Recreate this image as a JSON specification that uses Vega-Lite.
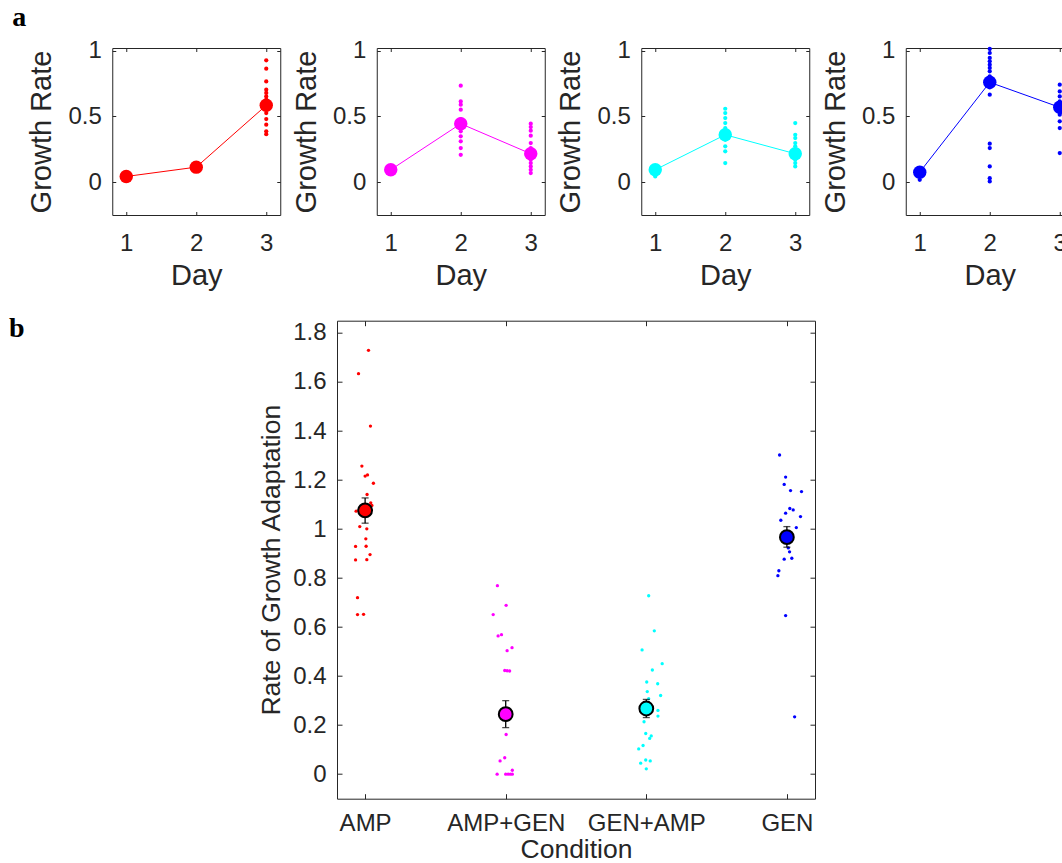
{
  "$schema": "https://vega.github.io/schema/vega-lite/v6.json",
  "background": "white",
  "padding": {"left": 8, "top": 4, "right": 5, "bottom": 5},
  "config": {
    "font": "Liberation Sans",
    "view": {"stroke": "#262626", "strokeWidth": 1},
    "axis": {"domain": false, "grid": false, "labelColor": "#262626", "titleColor": "#262626", "tickColor": "#262626", "tickWidth": 1, "titleFontWeight": "normal", "labelFont": "Liberation Sans", "titleFont": "Liberation Sans", "labelFlush": false, "labelOverlap": false},
    "title": {"font": "Liberation Serif", "fontWeight": "bold", "fontSize": 28, "color": "black", "anchor": "start", "frame": "group"}
  },
  "datasets": {
    "growth": [
      {"cond": "AMP", "day": 1, "rate": 0.02}, {"cond": "AMP", "day": 1, "rate": 0.03}, {"cond": "AMP", "day": 1, "rate": 0.04}, {"cond": "AMP", "day": 1, "rate": 0.05}, {"cond": "AMP", "day": 1, "rate": 0.06},
      {"cond": "AMP", "day": 2, "rate": 0.09}, {"cond": "AMP", "day": 2, "rate": 0.10}, {"cond": "AMP", "day": 2, "rate": 0.11}, {"cond": "AMP", "day": 2, "rate": 0.12}, {"cond": "AMP", "day": 2, "rate": 0.13}, {"cond": "AMP", "day": 2, "rate": 0.14},
      {"cond": "AMP", "day": 3, "rate": 0.926}, {"cond": "AMP", "day": 3, "rate": 0.863}, {"cond": "AMP", "day": 3, "rate": 0.766}, {"cond": "AMP", "day": 3, "rate": 0.703}, {"cond": "AMP", "day": 3, "rate": 0.678}, {"cond": "AMP", "day": 3, "rate": 0.652}, {"cond": "AMP", "day": 3, "rate": 0.627}, {"cond": "AMP", "day": 3, "rate": 0.60}, {"cond": "AMP", "day": 3, "rate": 0.57}, {"cond": "AMP", "day": 3, "rate": 0.55}, {"cond": "AMP", "day": 3, "rate": 0.525}, {"cond": "AMP", "day": 3, "rate": 0.48}, {"cond": "AMP", "day": 3, "rate": 0.437}, {"cond": "AMP", "day": 3, "rate": 0.386}, {"cond": "AMP", "day": 3, "rate": 0.365},
      {"cond": "AMP+GEN", "day": 1, "rate": 0.07}, {"cond": "AMP+GEN", "day": 1, "rate": 0.08}, {"cond": "AMP+GEN", "day": 1, "rate": 0.09}, {"cond": "AMP+GEN", "day": 1, "rate": 0.10}, {"cond": "AMP+GEN", "day": 1, "rate": 0.11},
      {"cond": "AMP+GEN", "day": 2, "rate": 0.733}, {"cond": "AMP+GEN", "day": 2, "rate": 0.614}, {"cond": "AMP+GEN", "day": 2, "rate": 0.589}, {"cond": "AMP+GEN", "day": 2, "rate": 0.551}, {"cond": "AMP+GEN", "day": 2, "rate": 0.48}, {"cond": "AMP+GEN", "day": 2, "rate": 0.46}, {"cond": "AMP+GEN", "day": 2, "rate": 0.424}, {"cond": "AMP+GEN", "day": 2, "rate": 0.386}, {"cond": "AMP+GEN", "day": 2, "rate": 0.348}, {"cond": "AMP+GEN", "day": 2, "rate": 0.31}, {"cond": "AMP+GEN", "day": 2, "rate": 0.259}, {"cond": "AMP+GEN", "day": 2, "rate": 0.208},
      {"cond": "AMP+GEN", "day": 3, "rate": 0.444}, {"cond": "AMP+GEN", "day": 3, "rate": 0.419}, {"cond": "AMP+GEN", "day": 3, "rate": 0.391}, {"cond": "AMP+GEN", "day": 3, "rate": 0.353}, {"cond": "AMP+GEN", "day": 3, "rate": 0.297}, {"cond": "AMP+GEN", "day": 3, "rate": 0.259}, {"cond": "AMP+GEN", "day": 3, "rate": 0.24}, {"cond": "AMP+GEN", "day": 3, "rate": 0.19}, {"cond": "AMP+GEN", "day": 3, "rate": 0.17}, {"cond": "AMP+GEN", "day": 3, "rate": 0.145}, {"cond": "AMP+GEN", "day": 3, "rate": 0.119}, {"cond": "AMP+GEN", "day": 3, "rate": 0.094}, {"cond": "AMP+GEN", "day": 3, "rate": 0.069},
      {"cond": "GEN+AMP", "day": 1, "rate": 0.043}, {"cond": "GEN+AMP", "day": 1, "rate": 0.07}, {"cond": "GEN+AMP", "day": 1, "rate": 0.09}, {"cond": "GEN+AMP", "day": 1, "rate": 0.11}, {"cond": "GEN+AMP", "day": 1, "rate": 0.12},
      {"cond": "GEN+AMP", "day": 2, "rate": 0.558}, {"cond": "GEN+AMP", "day": 2, "rate": 0.525}, {"cond": "GEN+AMP", "day": 2, "rate": 0.487}, {"cond": "GEN+AMP", "day": 2, "rate": 0.449}, {"cond": "GEN+AMP", "day": 2, "rate": 0.411}, {"cond": "GEN+AMP", "day": 2, "rate": 0.38}, {"cond": "GEN+AMP", "day": 2, "rate": 0.34}, {"cond": "GEN+AMP", "day": 2, "rate": 0.322}, {"cond": "GEN+AMP", "day": 2, "rate": 0.272}, {"cond": "GEN+AMP", "day": 2, "rate": 0.234}, {"cond": "GEN+AMP", "day": 2, "rate": 0.145},
      {"cond": "GEN+AMP", "day": 3, "rate": 0.449}, {"cond": "GEN+AMP", "day": 3, "rate": 0.36}, {"cond": "GEN+AMP", "day": 3, "rate": 0.335}, {"cond": "GEN+AMP", "day": 3, "rate": 0.297}, {"cond": "GEN+AMP", "day": 3, "rate": 0.272}, {"cond": "GEN+AMP", "day": 3, "rate": 0.23}, {"cond": "GEN+AMP", "day": 3, "rate": 0.2}, {"cond": "GEN+AMP", "day": 3, "rate": 0.17}, {"cond": "GEN+AMP", "day": 3, "rate": 0.145}, {"cond": "GEN+AMP", "day": 3, "rate": 0.119},
      {"cond": "GEN", "day": 1, "rate": 0.018}, {"cond": "GEN", "day": 1, "rate": 0.05}, {"cond": "GEN", "day": 1, "rate": 0.07}, {"cond": "GEN", "day": 1, "rate": 0.09}, {"cond": "GEN", "day": 1, "rate": 0.1},
      {"cond": "GEN", "day": 2, "rate": 1.013}, {"cond": "GEN", "day": 2, "rate": 0.982}, {"cond": "GEN", "day": 2, "rate": 0.944}, {"cond": "GEN", "day": 2, "rate": 0.919}, {"cond": "GEN", "day": 2, "rate": 0.893}, {"cond": "GEN", "day": 2, "rate": 0.868}, {"cond": "GEN", "day": 2, "rate": 0.843}, {"cond": "GEN", "day": 2, "rate": 0.805}, {"cond": "GEN", "day": 2, "rate": 0.78}, {"cond": "GEN", "day": 2, "rate": 0.74}, {"cond": "GEN", "day": 2, "rate": 0.72}, {"cond": "GEN", "day": 2, "rate": 0.665}, {"cond": "GEN", "day": 2, "rate": 0.292}, {"cond": "GEN", "day": 2, "rate": 0.259}, {"cond": "GEN", "day": 2, "rate": 0.119}, {"cond": "GEN", "day": 2, "rate": 0.03}, {"cond": "GEN", "day": 2, "rate": 0.005},
      {"cond": "GEN", "day": 3, "rate": 0.741}, {"cond": "GEN", "day": 3, "rate": 0.69}, {"cond": "GEN", "day": 3, "rate": 0.652}, {"cond": "GEN", "day": 3, "rate": 0.614}, {"cond": "GEN", "day": 3, "rate": 0.59}, {"cond": "GEN", "day": 3, "rate": 0.55}, {"cond": "GEN", "day": 3, "rate": 0.53}, {"cond": "GEN", "day": 3, "rate": 0.513}, {"cond": "GEN", "day": 3, "rate": 0.462}, {"cond": "GEN", "day": 3, "rate": 0.411}, {"cond": "GEN", "day": 3, "rate": 0.221}
    ],
    "growthMean": [
      {"cond": "AMP", "day": 1, "rate": 0.043}, {"cond": "AMP", "day": 2, "rate": 0.114}, {"cond": "AMP", "day": 3, "rate": 0.584},
      {"cond": "AMP+GEN", "day": 1, "rate": 0.094}, {"cond": "AMP+GEN", "day": 2, "rate": 0.444}, {"cond": "AMP+GEN", "day": 3, "rate": 0.216},
      {"cond": "GEN+AMP", "day": 1, "rate": 0.094}, {"cond": "GEN+AMP", "day": 2, "rate": 0.36}, {"cond": "GEN+AMP", "day": 3, "rate": 0.216},
      {"cond": "GEN", "day": 1, "rate": 0.076}, {"cond": "GEN", "day": 2, "rate": 0.759}, {"cond": "GEN", "day": 3, "rate": 0.569}
    ],
    "adapt": [
      {"cond": "AMP", "x": 1.024, "rate": 1.729}, {"cond": "AMP", "x": 0.953, "rate": 1.634}, {"cond": "AMP", "x": 1.038, "rate": 1.42}, {"cond": "AMP", "x": 0.977, "rate": 1.257}, {"cond": "AMP", "x": 1.0, "rate": 1.216}, {"cond": "AMP", "x": 1.017, "rate": 1.221}, {"cond": "AMP", "x": 1.059, "rate": 1.187}, {"cond": "AMP", "x": 1.014, "rate": 1.141}, {"cond": "AMP", "x": 1.04, "rate": 1.107}, {"cond": "AMP", "x": 1.048, "rate": 1.096}, {"cond": "AMP", "x": 0.936, "rate": 1.073}, {"cond": "AMP", "x": 0.962, "rate": 1.01}, {"cond": "AMP", "x": 1.012, "rate": 1.001}, {"cond": "AMP", "x": 1.005, "rate": 0.96}, {"cond": "AMP", "x": 0.932, "rate": 0.929}, {"cond": "AMP", "x": 1.007, "rate": 0.93}, {"cond": "AMP", "x": 1.035, "rate": 0.896}, {"cond": "AMP", "x": 0.932, "rate": 0.874}, {"cond": "AMP", "x": 1.012, "rate": 0.875}, {"cond": "AMP", "x": 0.946, "rate": 0.72}, {"cond": "AMP", "x": 0.946, "rate": 0.651}, {"cond": "AMP", "x": 0.989, "rate": 0.652},
      {"cond": "AMP+GEN", "x": 1.941, "rate": 0.769}, {"cond": "AMP+GEN", "x": 2.003, "rate": 0.689}, {"cond": "AMP+GEN", "x": 1.911, "rate": 0.651}, {"cond": "AMP+GEN", "x": 1.946, "rate": 0.564}, {"cond": "AMP+GEN", "x": 1.97, "rate": 0.569}, {"cond": "AMP+GEN", "x": 2.045, "rate": 0.516}, {"cond": "AMP+GEN", "x": 2.01, "rate": 0.504}, {"cond": "AMP+GEN", "x": 1.993, "rate": 0.423}, {"cond": "AMP+GEN", "x": 2.01, "rate": 0.422}, {"cond": "AMP+GEN", "x": 2.028, "rate": 0.421}, {"cond": "AMP+GEN", "x": 2.003, "rate": 0.162}, {"cond": "AMP+GEN", "x": 1.993, "rate": 0.067}, {"cond": "AMP+GEN", "x": 1.96, "rate": 0.054}, {"cond": "AMP+GEN", "x": 2.047, "rate": 0.016}, {"cond": "AMP+GEN", "x": 1.939, "rate": 0.0}, {"cond": "AMP+GEN", "x": 2.0, "rate": 0.0}, {"cond": "AMP+GEN", "x": 2.017, "rate": 0.0}, {"cond": "AMP+GEN", "x": 2.033, "rate": 0.0}, {"cond": "AMP+GEN", "x": 2.047, "rate": 0.0},
      {"cond": "GEN+AMP", "x": 3.017, "rate": 0.728}, {"cond": "GEN+AMP", "x": 3.057, "rate": 0.585}, {"cond": "GEN+AMP", "x": 2.97, "rate": 0.507}, {"cond": "GEN+AMP", "x": 3.113, "rate": 0.451}, {"cond": "GEN+AMP", "x": 3.043, "rate": 0.425}, {"cond": "GEN+AMP", "x": 3.003, "rate": 0.376}, {"cond": "GEN+AMP", "x": 3.081, "rate": 0.369}, {"cond": "GEN+AMP", "x": 3.007, "rate": 0.337}, {"cond": "GEN+AMP", "x": 3.102, "rate": 0.321}, {"cond": "GEN+AMP", "x": 3.017, "rate": 0.308}, {"cond": "GEN+AMP", "x": 3.083, "rate": 0.26}, {"cond": "GEN+AMP", "x": 3.083, "rate": 0.237}, {"cond": "GEN+AMP", "x": 2.984, "rate": 0.214}, {"cond": "GEN+AMP", "x": 2.996, "rate": 0.166}, {"cond": "GEN+AMP", "x": 3.035, "rate": 0.156}, {"cond": "GEN+AMP", "x": 3.024, "rate": 0.146}, {"cond": "GEN+AMP", "x": 2.977, "rate": 0.117}, {"cond": "GEN+AMP", "x": 2.946, "rate": 0.103}, {"cond": "GEN+AMP", "x": 2.996, "rate": 0.058}, {"cond": "GEN+AMP", "x": 3.028, "rate": 0.054}, {"cond": "GEN+AMP", "x": 2.96, "rate": 0.045}, {"cond": "GEN+AMP", "x": 3.0, "rate": 0.022},
      {"cond": "GEN", "x": 3.948, "rate": 1.302}, {"cond": "GEN", "x": 3.991, "rate": 1.212}, {"cond": "GEN", "x": 3.981, "rate": 1.182}, {"cond": "GEN", "x": 4.026, "rate": 1.157}, {"cond": "GEN", "x": 4.104, "rate": 1.153}, {"cond": "GEN", "x": 4.021, "rate": 1.084}, {"cond": "GEN", "x": 4.045, "rate": 1.078}, {"cond": "GEN", "x": 3.991, "rate": 1.065}, {"cond": "GEN", "x": 4.097, "rate": 1.051}, {"cond": "GEN", "x": 3.957, "rate": 1.036}, {"cond": "GEN", "x": 4.067, "rate": 1.006}, {"cond": "GEN", "x": 4.01, "rate": 0.923}, {"cond": "GEN", "x": 4.019, "rate": 0.907}, {"cond": "GEN", "x": 3.981, "rate": 0.877}, {"cond": "GEN", "x": 4.035, "rate": 0.881}, {"cond": "GEN", "x": 3.943, "rate": 0.83}, {"cond": "GEN", "x": 3.936, "rate": 0.81}, {"cond": "GEN", "x": 3.991, "rate": 0.647}, {"cond": "GEN", "x": 4.055, "rate": 0.234}
    ],
    "adaptMean": [
      {"cond": "AMP", "x": 1, "mean": 1.076, "lo": 1.024, "hi": 1.127},
      {"cond": "AMP+GEN", "x": 2, "mean": 0.245, "lo": 0.19, "hi": 0.3},
      {"cond": "GEN+AMP", "x": 3, "mean": 0.268, "lo": 0.231, "hi": 0.305},
      {"cond": "GEN", "x": 4, "mean": 0.967, "lo": 0.926, "hi": 1.01}
    ]
  },
  "center": true,
  "spacing": 22.7,
  "vconcat": [
    {
      "title": {"text": "a", "dx": -100, "offset": 6},
      "spacing": 10.5,
      "hconcat": [
        {
          "width": 168, "height": 167,
          "layer": [
            {"data": {"name": "growthMean"}, "transform": [{"filter": "datum.cond === 'AMP'"}], "mark": {"type": "line", "strokeWidth": 1},
             "encoding": {
               "x": {"field": "day", "type": "quantitative", "scale": {"domain": [0.8, 3.2], "nice": false, "zero": false}, "axis": {"values": [1, 2, 3], "format": "d", "title": "Day", "labelFontSize": 24, "titleFontSize": 29, "tickSize": -3.5, "labelPadding": 19.8, "titlePadding": 5.7}},
               "y": {"field": "rate", "type": "quantitative", "scale": {"domain": [-0.25, 1.02], "nice": false, "zero": false}, "axis": {"values": [0, 0.5, 1], "format": "~g", "title": "Growth Rate", "labelFontSize": 24, "titleFontSize": 29, "tickSize": -3.5, "labelPadding": 14.5, "titlePadding": 11}},
               "color": {"field": "cond", "type": "nominal", "scale": {"domain": ["AMP", "AMP+GEN", "GEN+AMP", "GEN"], "range": ["#ff0000", "#ff00ff", "#00ffff", "#0000ff"]}, "legend": null}}},
            {"data": {"name": "growth"}, "transform": [{"filter": "datum.cond === 'AMP'"}], "mark": {"type": "circle", "size": 18, "opacity": 1},
             "encoding": {
               "x": {"field": "day", "type": "quantitative", "axis": {"orient": "top", "values": [1, 2, 3], "labels": false, "title": null, "tickSize": -3.5, "minExtent": 0}},
               "y": {"field": "rate", "type": "quantitative", "axis": {"orient": "right", "values": [0, 0.5, 1], "labels": false, "title": null, "tickSize": -3.5, "minExtent": 0}},
               "color": {"field": "cond", "type": "nominal", "legend": null}}},
            {"data": {"name": "growthMean"}, "transform": [{"filter": "datum.cond === 'AMP'"}], "mark": {"type": "circle", "size": 180, "opacity": 1},
             "encoding": {
               "x": {"field": "day", "type": "quantitative", "axis": null},
               "y": {"field": "rate", "type": "quantitative", "axis": null},
               "color": {"field": "cond", "type": "nominal", "legend": null}}}
          ],
          "resolve": {"axis": {"x": "independent", "y": "independent"}}
        },
        {
          "width": 168, "height": 167,
          "layer": [
            {"data": {"name": "growthMean"}, "transform": [{"filter": "datum.cond === 'AMP+GEN'"}], "mark": {"type": "line", "strokeWidth": 1},
             "encoding": {
               "x": {"field": "day", "type": "quantitative", "scale": {"domain": [0.8, 3.2], "nice": false, "zero": false}, "axis": {"values": [1, 2, 3], "format": "d", "title": "Day", "labelFontSize": 24, "titleFontSize": 29, "tickSize": -3.5, "labelPadding": 19.8, "titlePadding": 5.7}},
               "y": {"field": "rate", "type": "quantitative", "scale": {"domain": [-0.25, 1.02], "nice": false, "zero": false}, "axis": {"values": [0, 0.5, 1], "format": "~g", "title": "Growth Rate", "labelFontSize": 24, "titleFontSize": 29, "tickSize": -3.5, "labelPadding": 14.5, "titlePadding": 11}},
               "color": {"field": "cond", "type": "nominal", "legend": null}}},
            {"data": {"name": "growth"}, "transform": [{"filter": "datum.cond === 'AMP+GEN'"}], "mark": {"type": "circle", "size": 18, "opacity": 1},
             "encoding": {
               "x": {"field": "day", "type": "quantitative", "axis": {"orient": "top", "values": [1, 2, 3], "labels": false, "title": null, "tickSize": -3.5, "minExtent": 0}},
               "y": {"field": "rate", "type": "quantitative", "axis": {"orient": "right", "values": [0, 0.5, 1], "labels": false, "title": null, "tickSize": -3.5, "minExtent": 0}},
               "color": {"field": "cond", "type": "nominal", "legend": null}}},
            {"data": {"name": "growthMean"}, "transform": [{"filter": "datum.cond === 'AMP+GEN'"}], "mark": {"type": "circle", "size": 180, "opacity": 1},
             "encoding": {
               "x": {"field": "day", "type": "quantitative", "axis": null},
               "y": {"field": "rate", "type": "quantitative", "axis": null},
               "color": {"field": "cond", "type": "nominal", "legend": null}}}
          ],
          "resolve": {"axis": {"x": "independent", "y": "independent"}}
        },
        {
          "width": 168, "height": 167,
          "layer": [
            {"data": {"name": "growthMean"}, "transform": [{"filter": "datum.cond === 'GEN+AMP'"}], "mark": {"type": "line", "strokeWidth": 1},
             "encoding": {
               "x": {"field": "day", "type": "quantitative", "scale": {"domain": [0.8, 3.2], "nice": false, "zero": false}, "axis": {"values": [1, 2, 3], "format": "d", "title": "Day", "labelFontSize": 24, "titleFontSize": 29, "tickSize": -3.5, "labelPadding": 19.8, "titlePadding": 5.7}},
               "y": {"field": "rate", "type": "quantitative", "scale": {"domain": [-0.25, 1.02], "nice": false, "zero": false}, "axis": {"values": [0, 0.5, 1], "format": "~g", "title": "Growth Rate", "labelFontSize": 24, "titleFontSize": 29, "tickSize": -3.5, "labelPadding": 14.5, "titlePadding": 11}},
               "color": {"field": "cond", "type": "nominal", "legend": null}}},
            {"data": {"name": "growth"}, "transform": [{"filter": "datum.cond === 'GEN+AMP'"}], "mark": {"type": "circle", "size": 18, "opacity": 1},
             "encoding": {
               "x": {"field": "day", "type": "quantitative", "axis": {"orient": "top", "values": [1, 2, 3], "labels": false, "title": null, "tickSize": -3.5, "minExtent": 0}},
               "y": {"field": "rate", "type": "quantitative", "axis": {"orient": "right", "values": [0, 0.5, 1], "labels": false, "title": null, "tickSize": -3.5, "minExtent": 0}},
               "color": {"field": "cond", "type": "nominal", "legend": null}}},
            {"data": {"name": "growthMean"}, "transform": [{"filter": "datum.cond === 'GEN+AMP'"}], "mark": {"type": "circle", "size": 180, "opacity": 1},
             "encoding": {
               "x": {"field": "day", "type": "quantitative", "axis": null},
               "y": {"field": "rate", "type": "quantitative", "axis": null},
               "color": {"field": "cond", "type": "nominal", "legend": null}}}
          ],
          "resolve": {"axis": {"x": "independent", "y": "independent"}}
        },
        {
          "width": 168, "height": 167,
          "layer": [
            {"data": {"name": "growthMean"}, "transform": [{"filter": "datum.cond === 'GEN'"}], "mark": {"type": "line", "strokeWidth": 1},
             "encoding": {
               "x": {"field": "day", "type": "quantitative", "scale": {"domain": [0.8, 3.2], "nice": false, "zero": false}, "axis": {"values": [1, 2, 3], "format": "d", "title": "Day", "labelFontSize": 24, "titleFontSize": 29, "tickSize": -3.5, "labelPadding": 19.8, "titlePadding": 5.7}},
               "y": {"field": "rate", "type": "quantitative", "scale": {"domain": [-0.25, 1.02], "nice": false, "zero": false}, "axis": {"values": [0, 0.5, 1], "format": "~g", "title": "Growth Rate", "labelFontSize": 24, "titleFontSize": 29, "tickSize": -3.5, "labelPadding": 14.5, "titlePadding": 11}},
               "color": {"field": "cond", "type": "nominal", "legend": null}}},
            {"data": {"name": "growth"}, "transform": [{"filter": "datum.cond === 'GEN'"}], "mark": {"type": "circle", "size": 18, "opacity": 1},
             "encoding": {
               "x": {"field": "day", "type": "quantitative", "axis": {"orient": "top", "values": [1, 2, 3], "labels": false, "title": null, "tickSize": -3.5, "minExtent": 0}},
               "y": {"field": "rate", "type": "quantitative", "axis": {"orient": "right", "values": [0, 0.5, 1], "labels": false, "title": null, "tickSize": -3.5, "minExtent": 0}},
               "color": {"field": "cond", "type": "nominal", "legend": null}}},
            {"data": {"name": "growthMean"}, "transform": [{"filter": "datum.cond === 'GEN'"}], "mark": {"type": "circle", "size": 180, "opacity": 1},
             "encoding": {
               "x": {"field": "day", "type": "quantitative", "axis": null},
               "y": {"field": "rate", "type": "quantitative", "axis": null},
               "color": {"field": "cond", "type": "nominal", "legend": null}}}
          ],
          "resolve": {"axis": {"x": "independent", "y": "independent"}}
        }
      ]
    },
    {
      "title": {"text": "b", "dx": -328, "offset": -22.6},
      "width": 478, "height": 478,
      "layer": [
        {"data": {"name": "adapt"}, "mark": {"type": "circle", "size": 11, "opacity": 1},
         "encoding": {
           "x": {"field": "x", "type": "quantitative", "scale": {"domain": [0.8, 4.2], "nice": false, "zero": false}, "axis": {"values": [1, 2, 3, 4], "labelExpr": "datum.value == 1 ? 'AMP' : datum.value == 2 ? 'AMP+GEN' : datum.value == 3 ? 'GEN+AMP' : 'GEN'", "title": "Condition", "labelFontSize": 24, "titleFontSize": 26.5, "tickSize": -5, "labelPadding": 18, "titlePadding": 0.5}},
           "y": {"field": "rate", "type": "quantitative", "scale": {"domain": [-0.1, 1.85], "nice": false, "zero": false}, "axis": {"values": [0, 0.2, 0.4, 0.6, 0.8, 1, 1.2, 1.4, 1.6, 1.8], "format": "~g", "title": "Rate of Growth Adaptation", "labelFontSize": 24, "titleFontSize": 26.5, "tickSize": -5, "labelPadding": 16, "titlePadding": 7}},
           "color": {"field": "cond", "type": "nominal", "legend": null}}},
        {"data": {"name": "adaptMean"}, "mark": {"type": "errorbar", "color": "black", "thickness": 1.3, "ticks": {"size": 7}},
         "encoding": {
           "x": {"field": "x", "type": "quantitative", "axis": null},
           "y": {"field": "lo", "type": "quantitative", "axis": null},
           "y2": {"field": "hi"}}},
        {"data": {"name": "adaptMean"}, "mark": {"type": "circle", "size": 190, "opacity": 1, "stroke": "black", "strokeWidth": 2},
         "encoding": {
           "x": {"field": "x", "type": "quantitative", "axis": {"orient": "top", "values": [1, 2, 3, 4], "labels": false, "title": null, "tickSize": -5, "minExtent": 0}},
           "y": {"field": "mean", "type": "quantitative", "axis": {"orient": "right", "values": [0, 0.2, 0.4, 0.6, 0.8, 1, 1.2, 1.4, 1.6, 1.8], "labels": false, "title": null, "tickSize": -5, "minExtent": 34.5}},
           "fill": {"field": "cond", "type": "nominal", "scale": {"domain": ["AMP", "AMP+GEN", "GEN+AMP", "GEN"], "range": ["#ff0000", "#ff00ff", "#00ffff", "#0000ff"]}, "legend": null}}}
      ],
      "resolve": {"axis": {"x": "independent", "y": "independent"}}
    }
  ]
}
